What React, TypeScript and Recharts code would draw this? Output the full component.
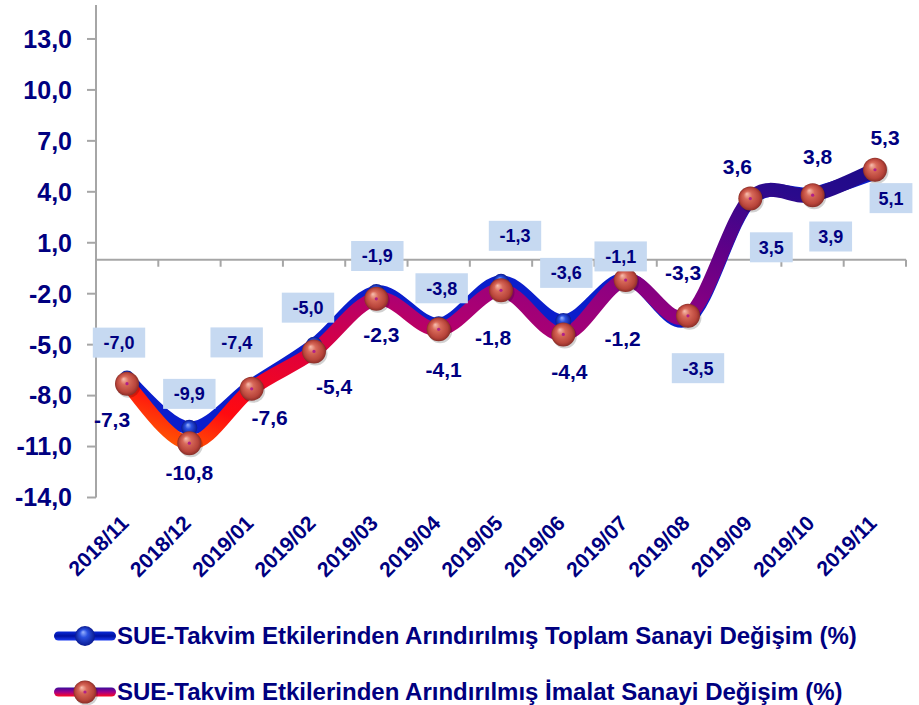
import React from 'react'
import {
  LineChart,
  Line,
  XAxis,
  YAxis,
  ReferenceLine,
  LabelList,
  Legend,
} from 'recharts'

const months = ['2018/11', '2018/12', '2019/01', '2019/02', '2019/03', '2019/04', '2019/05', '2019/06', '2019/07', '2019/08', '2019/09', '2019/10', '2019/11']
const toplam = [-7.0, -9.9, -7.4, -5.0, -1.9, -3.8, -1.3, -3.6, -1.1, -3.5, 3.5, 3.9, 5.1]
const imalat = [-7.3, -10.8, -7.6, -5.4, -2.3, -4.1, -1.8, -4.4, -1.2, -3.3, 3.6, 3.8, 5.3]
const yTicks = [-14, -11, -8, -5, -2, 1, 4, 7, 10, 13]

const toplamName = 'SUE-Takvim Etkilerinden Arındırılmış Toplam Sanayi Değişim (%)'
const imalatName = 'SUE-Takvim Etkilerinden Arındırılmış İmalat Sanayi Değişim (%)'

// hand placed label offsets, like the excel original
const toplamOffsets = [[-8, -36], [0, -34], [-15, -43], [-6, -37], [1, -36], [3, -36], [14, -46], [3, -48], [-5, -22], [10, 49], [21, 47], [18, 43], [16, 25]]
const imalatOffsets = [[-15, 36], [0, 29], [18, 29], [20, 35], [5, 36], [5, 40], [-8, 47], [6, 37], [-3, 58], [-5, -43], [-13, -32], [5, -39], [10, -32]]

const data = months.map((m, i) => ({ month: m, toplam: toplam[i], imalat: imalat[i] }))

const NAVY = '#000080'
const FONT = '"Liberation Sans", Arial, sans-serif'
const fmt = (v: number) => v.toFixed(1).replace('.', ',')

// smooth curve close to excel's smoothed line
const excelCurve = (ctx: any) => {
  let pts: number[][] = []
  return {
    areaStart() {},
    areaEnd() {},
    lineStart() { pts = [] },
    point(x: number, y: number) { pts.push([+x, +y]) },
    lineEnd() {
      if (!pts.length) return
      ctx.moveTo(pts[0][0], pts[0][1])
      for (let i = 0; i < pts.length - 1; i++) {
        const p0 = pts[i - 1] || pts[i]
        const p1 = pts[i]
        const p2 = pts[i + 1]
        const p3 = pts[i + 2] || p2
        ctx.bezierCurveTo(
          p1[0] + (p2[0] - p0[0]) / 6, p1[1] + (p2[1] - p0[1]) / 6,
          p2[0] - (p3[0] - p1[0]) / 6, p2[1] - (p3[1] - p1[1]) / 6,
          p2[0], p2[1]
        )
      }
    },
  }
}

const findIndex = (props: any, arr: number[]) =>
  props.index !== undefined ? props.index : arr.indexOf(props.value)

const ToplamLabel = (props: any) => {
  const i = findIndex(props, toplam)
  const [dx, dy] = toplamOffsets[i] || [0, -36]
  const text = fmt(props.value)
  const w = text.length * 9.6 + 14
  const cx = props.x + dx
  const cy = props.y + dy
  return (
    <g>
      <rect x={cx - w / 2} y={cy - 15} width={w} height={30} fill="#C6D9F1" />
      <text x={cx} y={cy} dy="0.36em" textAnchor="middle" fill={NAVY} fontSize={18} fontWeight="bold" fontFamily={FONT}>
        {text}
      </text>
    </g>
  )
}

const ImalatLabel = (props: any) => {
  const i = findIndex(props, imalat)
  const [dx, dy] = imalatOffsets[i] || [0, 36]
  return (
    <text x={props.x + dx} y={props.y + dy} dy="0.36em" textAnchor="middle" fill={NAVY} fontSize={21} fontWeight="bold" fontFamily={FONT}>
      {fmt(props.value)}
    </text>
  )
}

const RedBall = ({ cx, cy, size = 12 }: any) => (
  <g>
    <circle cx={cx + 1.5} cy={cy + 2} r={size} fill="rgba(0,0,0,0.18)" />
    <circle cx={cx} cy={cy} r={size} fill="url(#redBall)" />
    <circle cx={cx} cy={cy} r={1.6} fill="#B0208A" />
  </g>
)

const BlueBall = ({ cx, cy, size = 8 }: any) => (
  <circle cx={cx} cy={cy} r={size} fill="url(#blueBall)" />
)

const MonthTick = ({ x, y, payload }: any) => {
  const px = x + 3
  const py = y + 19
  return (
    <text x={px} y={py} transform={`rotate(-45 ${px} ${py})`} textAnchor="end" fill={NAVY} fontSize={21} fontWeight="bold" fontFamily={FONT}>
      {payload.value}
    </text>
  )
}

const ZeroLine = (props: any) => {
  const { x1, x2, y1 } = props
  const step = (x2 - x1) / months.length
  return (
    <g>
      <line x1={x1} x2={x2} y1={y1} y2={y1} stroke="#A6A6A6" strokeWidth={2} />
      {months.map((m, i) => (
        <line key={m} x1={x1 + step * (i + 1)} x2={x1 + step * (i + 1)} y1={y1} y2={y1 + 7} stroke="#A6A6A6" strokeWidth={2} />
      ))}
    </g>
  )
}

const LegendIcon = ({ kind }: { kind: string }) => (
  <svg width={62} height={26} style={{ display: 'block' }}>
    <defs>
      <linearGradient id={`lg-${kind}`} x1="0" y1="0" x2="0" y2="1">
        {kind === 'toplam' ? (
          <>
            <stop offset="0%" stopColor="#0A2AD8" />
            <stop offset="50%" stopColor="#0010A0" />
            <stop offset="100%" stopColor="#1A3AF0" />
          </>
        ) : (
          <>
            <stop offset="0%" stopColor="#3A0A9A" />
            <stop offset="50%" stopColor="#A0008A" />
            <stop offset="100%" stopColor="#FF0A20" />
          </>
        )}
      </linearGradient>
    </defs>
    <rect x={0} y={8.5} width={62} height={9} rx={4.5} fill={`url(#lg-${kind})`} />
    {kind === 'toplam' ? <BlueBall cx={31} cy={13} size={10} /> : <RedBall cx={31} cy={13} size={11.5} />}
  </svg>
)

const LegendContent = () => (
  <div style={{ position: 'relative', width: 919, height: 120, fontFamily: FONT }}>
    {[
      { kind: 'toplam', name: toplamName, top: 43 },
      { kind: 'imalat', name: imalatName, top: 99 },
    ].map((row) => (
      <div key={row.kind} style={{ position: 'absolute', left: 54, top: row.top, height: 30, display: 'flex', alignItems: 'center' }}>
        <LegendIcon kind={row.kind} />
        <span style={{ color: NAVY, fontWeight: 'bold', fontSize: 24, marginLeft: 1, whiteSpace: 'nowrap' }}>{row.name}</span>
      </div>
    ))}
  </div>
)

export default function App() {
  return (
    <div style={{ position: 'absolute', left: 0, top: 0, background: '#fff' }}>
      <LineChart width={919} height={705} data={data} margin={{ top: 5, right: 13, left: 0, bottom: 7.5 }}>
        <defs>
          <linearGradient id="imalatStroke" x1="0" y1="1" x2="1" y2="0">
            <stop offset="0%" stopColor="#FF6A00" />
            <stop offset="12%" stopColor="#FF0A10" />
            <stop offset="28%" stopColor="#E0003A" />
            <stop offset="44%" stopColor="#B00070" />
            <stop offset="60%" stopColor="#900080" />
            <stop offset="75%" stopColor="#600088" />
            <stop offset="90%" stopColor="#2A0A8C" />
            <stop offset="100%" stopColor="#1E0A8A" />
          </linearGradient>
          <radialGradient id="redBall" cx="50%" cy="50%" r="50%" fx="35%" fy="30%">
            <stop offset="0%" stopColor="#F8C0B0" />
            <stop offset="35%" stopColor="#D86A5A" />
            <stop offset="80%" stopColor="#B8443A" />
            <stop offset="100%" stopColor="#8A2E28" />
          </radialGradient>
          <radialGradient id="blueBall" cx="50%" cy="50%" r="50%" fx="40%" fy="30%">
            <stop offset="0%" stopColor="#9AB4FF" />
            <stop offset="40%" stopColor="#2A50E0" />
            <stop offset="100%" stopColor="#0A1A90" />
          </radialGradient>
        </defs>
        <XAxis
          dataKey="month"
          height={80}
          padding={{ left: 31, right: 31 }}
          axisLine={false}
          tickLine={false}
          tick={<MonthTick />}
          interval={0}
        />
        <YAxis
          width={96}
          domain={[-14, 15]}
          ticks={yTicks}
          interval={0}
          tickFormatter={fmt}
          axisLine={{ stroke: '#A6A6A6', strokeWidth: 2 }}
          tickLine={{ stroke: '#A6A6A6', strokeWidth: 2 }}
          tickSize={9}
          tickMargin={15}
          tick={{ fill: NAVY, fontSize: 25, fontWeight: 'bold', fontFamily: FONT }}
        />
        <ReferenceLine y={0} shape={<ZeroLine />} />
        <Line
          dataKey="toplam"
          name={toplamName}
          type={excelCurve as any}
          stroke="#0A1ECC"
          strokeWidth={13}
          strokeLinecap="round"
          dot={<BlueBall />}
          activeDot={false}
          isAnimationActive={false}
        />
        <Line
          dataKey="imalat"
          name={imalatName}
          type={excelCurve as any}
          stroke="url(#imalatStroke)"
          strokeWidth={14}
          strokeLinecap="round"
          dot={<RedBall />}
          activeDot={false}
          isAnimationActive={false}
        >
          <LabelList dataKey="imalat" content={<ImalatLabel />} />
        </Line>
        <Line dataKey="toplam" stroke="none" dot={false} legendType="none" isAnimationActive={false}>
          <LabelList dataKey="toplam" content={<ToplamLabel />} />
        </Line>
        <Legend verticalAlign="bottom" height={120} wrapperStyle={{ left: 0, width: 919 }} content={<LegendContent />} />
      </LineChart>
    </div>
  )
}
